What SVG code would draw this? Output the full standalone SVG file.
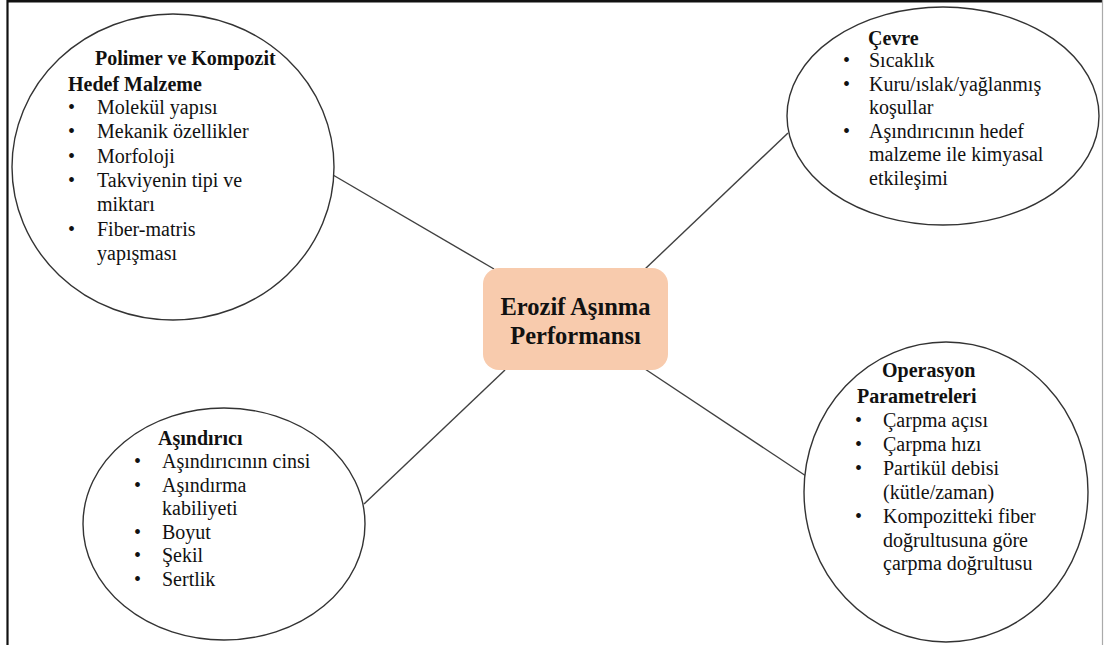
<svg xmlns="http://www.w3.org/2000/svg" width="1105" height="645" viewBox="0 0 1105 645">
<style>
.ell{fill:#fff;stroke:#333;stroke-width:1.4}
.con{stroke:#404040;stroke-width:1.4;fill:none}
.t{font-family:'Liberation Serif','Times New Roman',Tinos,'DejaVu Serif',serif;font-size:20px;fill:#111}
.b{font-weight:bold}
.c{font-size:24.5px;font-weight:bold;text-anchor:middle}
</style>
<rect x="0" y="0" width="1105" height="645" fill="#fff"/>
<g id="frame">
<line x1="7.5" y1="0" x2="7.5" y2="645" stroke="#111" stroke-width="2.2"/>
<line x1="7" y1="1.2" x2="1103" y2="1.2" stroke="#111" stroke-width="2.4"/>
<line x1="1102.5" y1="0" x2="1102.5" y2="645" stroke="#aaa" stroke-width="1.2"/>
</g>
<g id="connectors">
<line class="con" x1="333" y1="175" x2="494" y2="269"/>
<line class="con" x1="788" y1="133" x2="645" y2="269"/>
<line class="con" x1="505" y1="370" x2="364" y2="504"/>
<line class="con" x1="645" y1="369" x2="806" y2="476"/>
</g>
<g class="t">
<g id="center">
<rect x="483" y="268" width="185" height="102" rx="16" fill="#F8CBAD"/>
<text class="c" x="575.5" y="315">Erozif Aşınma</text>
<text class="c" x="575.5" y="344">Performansı</text>
</g>
<g id="target">
<ellipse class="ell" cx="173" cy="167" rx="161" ry="153"/>
<text class="b" x="95" y="65">Polimer ve Kompozit</text>
<text class="b" x="68" y="91">Hedef Malzeme</text>
<text x="68" y="114">•</text><text x="97" y="114">Molekül yapısı</text>
<text x="68" y="138.3">•</text><text x="97" y="138.3">Mekanik özellikler</text>
<text x="68" y="162.6">•</text><text x="97" y="162.6">Morfoloji</text>
<text x="68" y="187">•</text><text x="97" y="187">Takviyenin tipi ve</text>
<text x="97" y="211.2">miktarı</text>
<text x="68" y="235.5">•</text><text x="97" y="235.5">Fiber-matris</text>
<text x="97" y="259.8">yapışması</text>
</g>
<g id="environment">
<ellipse class="ell" cx="943" cy="116" rx="156" ry="109"/>
<text class="b" x="868" y="45">Çevre</text>
<text x="843" y="67">•</text><text x="869" y="67">Sıcaklık</text>
<text x="843" y="90.5">•</text><text x="869" y="90.5">Kuru/ıslak/yağlanmış</text>
<text x="869" y="114">koşullar</text>
<text x="843" y="137.5">•</text><text x="869" y="137.5">Aşındırıcının hedef</text>
<text x="869" y="161">malzeme ile kimyasal</text>
<text x="869" y="184.5">etkileşimi</text>
</g>
<g id="abrasive">
<ellipse class="ell" cx="224" cy="524" rx="141" ry="116"/>
<text class="b" x="158" y="445">Aşındırıcı</text>
<text x="134" y="468">•</text><text x="162" y="468">Aşındırıcının cinsi</text>
<text x="134" y="491.6">•</text><text x="162" y="491.6">Aşındırma</text>
<text x="162" y="515.2">kabiliyeti</text>
<text x="134" y="538.8">•</text><text x="162" y="538.8">Boyut</text>
<text x="134" y="562.4">•</text><text x="162" y="562.4">Şekil</text>
<text x="134" y="586">•</text><text x="162" y="586">Sertlik</text>
</g>
<g id="operation">
<ellipse class="ell" cx="946" cy="492" rx="142" ry="150"/>
<text class="b" x="882" y="377">Operasyon</text>
<text class="b" x="857" y="403">Parametreleri</text>
<text x="855" y="427">•</text><text x="883" y="427">Çarpma açısı</text>
<text x="855" y="450.5">•</text><text x="883" y="450.5">Çarpma hızı</text>
<text x="855" y="474.5">•</text><text x="883" y="474.5">Partikül debisi</text>
<text x="883" y="498.5">(kütle/zaman)</text>
<text x="855" y="523">•</text><text x="883" y="523">Kompozitteki fiber</text>
<text x="883" y="546.5">doğrultusuna göre</text>
<text x="883" y="570">çarpma doğrultusu</text>
</g>
</g>
</svg>
